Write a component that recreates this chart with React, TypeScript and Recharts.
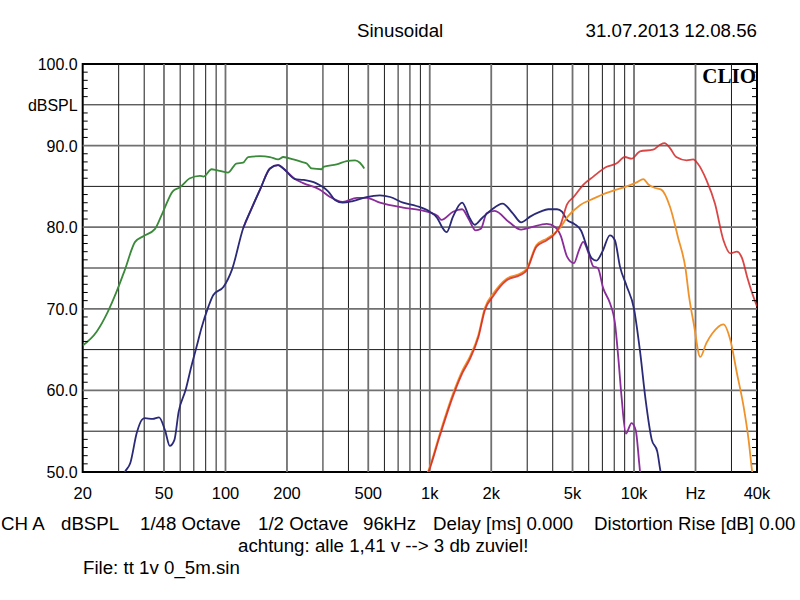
import React from "react";
import { LineChart, Line, XAxis, YAxis, ReferenceLine, ReferenceArea } from "recharts";

if (typeof document !== "undefined") {
  document.body.style.margin = "0";
}

// ---- layout constants (page coordinates, svg at 0,0) ----
const W = 800;
const H = 600;
const PL = 82.7;
const PT = 64;
const PR = 757;
const PB = 472;

// ---- axis ticks / labels ----
const xTickValues = [20, 50, 100, 200, 500, 1000, 2000, 5000, 10000, 20000, 40000];
const xTickLabels = ["20", "50", "100", "200", "500", "1k", "2k", "5k", "10k", "Hz", "40k"];
const xGridMinor = [30, 40, 60, 70, 80, 90, 300, 400, 600, 700, 800, 900, 3000, 4000, 6000, 7000, 8000, 9000, 30000];
const xGridMajor = [50, 100, 200, 500, 1000, 2000, 5000, 10000, 20000];
const yGridMinor = [55, 65, 75, 85, 95];
const yGridMajor = [60, 70, 80, 90];
const yTickValues = [50, 51, 52, 53, 54, 55, 56, 57, 58, 59, 60, 61, 62, 63, 64, 65, 66, 67, 68, 69, 70, 71, 72, 73, 74, 75, 76, 77, 78, 79, 80, 81, 82, 83, 84, 85, 86, 87, 88, 89, 90, 91, 92, 93, 94, 95, 96, 97, 98, 99, 100];
const yLabelValues = [100, 95, 90, 80, 70, 60, 50];
const yLabelTexts = ["100.0", "dBSPL", "90.0", "80.0", "70.0", "60.0", "50.0"];

// ---- series: [frequency Hz, dBSPL] ----
const greenSeries: [number, number][] = [
  [20, 65.5], [23.4, 67.2], [26.5, 69.6], [29.3, 72.1], [32.2, 74.8], [36.1, 78.2], [39.6, 78.9],
  [45.2, 79.8], [49.3, 81.8], [55.2, 84.4], [59.9, 84.9], [67, 86.0], [75, 86.3], [78, 86.2],
  [85.6, 87.1], [90.5, 87.0], [103, 86.7], [113, 87.8], [122, 87.9], [129, 88.6], [148, 88.7],
  [165, 88.6], [181, 88.3], [192, 88.6], [215, 88.3], [236, 88.0], [250, 87.8], [264, 87.2],
  [296, 87.1], [301, 87.4], [350, 87.7], [392, 88.1], [431, 88.2], [455, 87.9], [478, 87.2],
];

const navySeries: [number, number][] = [
  [30, 48], [32.2, 50], [34.2, 51.1], [36.8, 54.8], [39, 56.4], [40.3, 56.6], [44, 56.5], [47.3, 56.7],
  [50.6, 55.1], [53.4, 53.2], [56.2, 53.9], [59, 57.4], [63.9, 60.1], [68, 62.9], [72.3, 65.4],
  [76, 67.5], [82.6, 70.3], [87.2, 71.7], [97.9, 72.7], [107.6, 74.8], [122.2, 79.9], [134.3, 82.3],
  [147.6, 84.6], [165.2, 87.2], [181, 87.6], [192, 87.2], [219, 85.9], [240, 85.8], [277, 85.4],
  [318, 84.4], [345, 83.3], [375, 83.0], [420, 83.2], [490, 83.7], [570, 83.9], [640, 83.7],
  [740, 83.0], [860, 82.6], [1000, 81.9], [1090, 81.1], [1150, 80.0], [1210, 79.4], [1300, 81.3],
  [1440, 83.0], [1570, 81.1], [1660, 80.3], [1800, 81.1], [2000, 82.1], [2270, 82.9], [2550, 81.7],
  [2800, 80.6], [3100, 81.3], [3480, 81.9], [3800, 82.2], [4200, 82.2], [4440, 81.9], [4700, 80.9],
  [5100, 80.4], [5500, 79.6], [5900, 77.5], [6200, 76.2], [6550, 75.9], [7000, 77.0], [7620, 79.0],
  [8060, 78.4], [8530, 75.2], [9200, 72.8], [10000, 70.0], [10700, 64.8], [11400, 58.8],
  [12200, 54.0], [13000, 52.5], [13500, 50.0], [14000, 48.5],
];

const purpleSeries: [number, number][] = [
  [122.2, 79.9], [134.3, 82.3], [147.6, 84.6], [165.2, 87.2], [181, 87.6], [192, 87.2], [219, 85.9],
  [240, 85.4], [290, 84.6], [325, 83.7], [375, 83.1], [440, 83.6], [490, 83.6], [570, 83.0],
  [740, 82.4], [900, 82.1], [1090, 81.4], [1140, 80.9], [1300, 81.9], [1440, 82.2], [1550, 81.0],
  [1680, 79.6], [1780, 79.8], [1900, 81.7], [2080, 82.0], [2450, 80.6], [2800, 79.7], [3150, 80.0],
  [3740, 80.4], [4120, 80.0], [4370, 79.0], [4700, 76.4], [5080, 75.6], [5380, 77.2], [5640, 78.2],
  [5990, 76.8], [6320, 75.2], [6650, 75.0], [7070, 72.5], [7620, 70.7], [8070, 68.2], [8370, 64.1],
  [8690, 59.2], [9120, 54.7], [9730, 56.0], [10200, 55.1], [10600, 51.1], [10700, 50.0], [10800, 48],
];

const redSeries: [number, number][] = [
  [960, 49.3], [990, 50.1], [1120, 54.4], [1300, 59.3], [1450, 62.2], [1570, 63.8], [1730, 66.5],
  [1860, 69.8], [2050, 71.6], [2380, 73.5], [2760, 74.1], [2980, 74.7], [3330, 77.6], [3740, 78.4],
  [4100, 79.2], [4370, 80.3], [4700, 82.8], [5060, 83.7], [5640, 85.2], [6320, 86.2], [7350, 87.4],
  [8200, 87.8], [9020, 88.6], [9730, 88.4], [10700, 89.3], [12400, 89.5], [13400, 90.1],
  [14100, 90.3], [15000, 89.7], [16100, 88.6], [18100, 88.2], [19500, 88.3], [20500, 87.8],
  [22600, 85.8], [24900, 82.9], [27400, 78.4], [29600, 76.8], [31900, 77.0], [33800, 76.2],
  [35800, 73.9], [37900, 71.9], [40000, 70.3],
];

const orangeSeries: [number, number][] = [
  [960, 49.5], [990, 50.3], [1120, 54.7], [1300, 59.6], [1450, 62.5], [1570, 64.1], [1730, 66.8],
  [1860, 70.1], [2050, 71.9], [2380, 73.7], [2760, 74.3], [2980, 74.9], [3330, 77.8], [3740, 78.6],
  [4100, 79.3], [4370, 80.0], [4700, 81.2], [5440, 82.7], [6320, 83.5], [7350, 84.2], [8200, 84.6],
  [9200, 85.0], [10300, 85.5], [11100, 85.9], [11800, 85.2], [12700, 84.8], [13600, 84.6],
  [15000, 82.5], [16400, 78.8], [17900, 74.8], [18600, 71.5], [19600, 68.2], [21100, 64.1],
  [22600, 65.8], [24200, 67.0], [27400, 68.1], [29600, 66.2], [31900, 62.1], [34400, 58.0],
  [36400, 53.9], [37900, 50.0], [39000, 48],
];

const toRows = (s: [number, number][]) => s.map(([f, db]) => ({ f, db }));

const FONT = "'Liberation Sans', Arial, sans-serif";
const TXT = 18.7;

const XTick = (props: any) => {
  const { x, y, payload } = props;
  const i = xTickValues.indexOf(payload.value);
  const label = i >= 0 ? xTickLabels[i] : "";
  return (
    <text x={x} y={y + 27} textAnchor="middle" fontFamily={FONT} fontSize={16.5} fill="#000">
      {label}
    </text>
  );
};

const YTick = (props: any) => {
  const { y, payload } = props;
  const v = payload.value;
  const i = yLabelValues.indexOf(v);
  return (
    <g>
      {v % 5 !== 0 && (
        <>
          <line x1={PL} x2={PL + 5} y1={y} y2={y} stroke="#000" strokeWidth={1} />
          <line x1={PR - 5} x2={PR} y1={y} y2={y} stroke="#000" strokeWidth={1} />
        </>
      )}
      {i >= 0 && (
        <text x={PL - 5} y={y + 6} textAnchor="end" fontFamily={FONT} fontSize={16} fill="#000">
          {yLabelTexts[i]}
        </text>
      )}
    </g>
  );
};

const txt = (s: string, left: number, cy: number, size = TXT) => (
  <div
    style={{
      position: "absolute",
      left,
      top: cy - size * 0.49,
      fontFamily: FONT,
      fontSize: size,
      lineHeight: `${size}px`,
      whiteSpace: "nowrap",
      color: "#000",
    }}
  >
    {s}
  </div>
);

export default function App() {
  return (
    <div style={{ position: "relative", width: W, height: H, background: "#fff", overflow: "hidden" }}>
      <LineChart
        width={W}
        height={H}
        margin={{ top: PT, right: W - PR, bottom: 90, left: 0 }}
        style={{ background: "#fff" }}
      >
        <XAxis
          dataKey="f"
          type="number"
          scale="log"
          domain={[20, 40000]}
          allowDataOverflow
          ticks={xTickValues}
          tick={<XTick />}
          tickLine={false}
          axisLine={false}
          tickSize={0}
          tickMargin={0}
          height={H - PB - 90}
          interval={0}
        />
        <YAxis
          type="number"
          domain={[50, 100]}
          allowDataOverflow
          ticks={yTickValues}
          tick={<YTick />}
          tickLine={false}
          axisLine={false}
          tickSize={0}
          tickMargin={0}
          width={PL}
          interval={0}
        />
        {xGridMinor.map((v) => (
          <ReferenceLine key={"xm" + v} x={v} stroke="#1a1a1a" strokeWidth={1} />
        ))}
        {yGridMinor.map((v) => (
          <ReferenceLine key={"ym" + v} y={v} stroke="#1a1a1a" strokeWidth={1} />
        ))}
        {xGridMajor.map((v) => (
          <ReferenceLine key={"xM" + v} x={v} stroke="#707070" strokeWidth={1.8} />
        ))}
        {yGridMajor.map((v) => (
          <ReferenceLine key={"yM" + v} y={v} stroke="#707070" strokeWidth={1.8} />
        ))}
        <ReferenceArea x1={20} x2={40000} y1={50} y2={100} fill="none" fillOpacity={0} stroke="#000" strokeWidth={2} />
        <Line data={toRows(greenSeries)} dataKey="db" type="monotone" stroke="#3a8a3a" strokeWidth={1.8} dot={false} isAnimationActive={false} />
        <Line data={toRows(purpleSeries)} dataKey="db" type="monotone" stroke="#8a2c9a" strokeWidth={1.8} dot={false} isAnimationActive={false} />
        <Line data={toRows(navySeries)} dataKey="db" type="monotone" stroke="#2a2a78" strokeWidth={1.8} dot={false} isAnimationActive={false} />
        <Line data={toRows(orangeSeries)} dataKey="db" type="monotone" stroke="#f0922a" strokeWidth={1.8} dot={false} isAnimationActive={false} />
        <Line data={toRows(redSeries)} dataKey="db" type="monotone" stroke="#d42626" strokeWidth={1.8} strokeOpacity={0.85} dot={false} isAnimationActive={false} />
      </LineChart>

      {txt("Sinusoidal", 357, 31)}
      <div
        style={{
          position: "absolute",
          right: W - PR,
          top: 31 - TXT * 0.49,
          fontFamily: FONT,
          fontSize: TXT,
          lineHeight: `${TXT}px`,
          whiteSpace: "nowrap",
        }}
      >
        31.07.2013 12.08.56
      </div>
      <div
        style={{
          position: "absolute",
          right: W - PR + 1,
          top: PT + 2,
          fontFamily: "'Liberation Serif', 'Times New Roman', serif",
          fontWeight: "bold",
          fontSize: 21,
          lineHeight: "21px",
          whiteSpace: "nowrap",
        }}
      >
        CLIO
      </div>

      {txt("CH A", 1, 524)}
      {txt("dBSPL", 61, 524)}
      {txt("1/48 Octave", 140, 524)}
      {txt("1/2 Octave", 258, 524)}
      {txt("96kHz", 363, 524)}
      {txt("Delay [ms] 0.000", 433, 524)}
      {txt("Distortion Rise [dB] 0.00", 594, 524)}
      {txt("achtung: alle 1,41 v --> 3 db zuviel!", 238, 546)}
      {txt("File: tt 1v 0_5m.sin", 83, 568)}
    </div>
  );
}
